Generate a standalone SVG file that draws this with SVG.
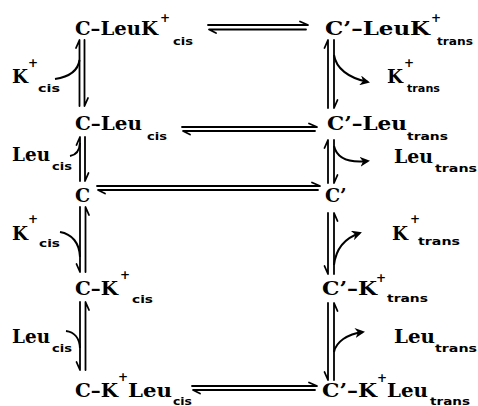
<svg xmlns="http://www.w3.org/2000/svg" width="478" height="406" viewBox="0 0 478 406">
<style>
.m{font-family:"DejaVu Serif","Liberation Serif",serif;font-weight:bold;font-size:19px;fill:#000}
.p{font-family:"DejaVu Sans","Liberation Sans",sans-serif;font-weight:bold;font-size:12px;fill:#000}
.s{font-family:"DejaVu Sans","Liberation Sans",sans-serif;font-weight:bold;font-size:10.5px;fill:#000}
.l{fill:none;stroke:#000;stroke-width:1.8;stroke-linecap:round;stroke-linejoin:round}
.c{fill:none;stroke:#000;stroke-width:2}
</style>
<defs>
<marker id="ah" viewBox="0 0 10 10" refX="8" refY="5" markerWidth="5" markerHeight="5" orient="auto" markerUnits="strokeWidth">
<path d="M0,0 L10,5 L0,10 L3,5 z" fill="#000"/>
</marker>
</defs>
<rect width="478" height="406" fill="#fff"/>
<g id="n-CLeuK">
<text class="m" x="75" y="35" textLength="83" lengthAdjust="spacingAndGlyphs">C–LeuK</text>
<text class="p" x="160" y="22">+</text>
<text class="s" x="173" y="45" textLength="20" lengthAdjust="spacingAndGlyphs">cis</text>
</g>
<g id="n-CpLeuK">
<text class="m" x="325" y="35" textLength="105" lengthAdjust="spacingAndGlyphs">C’–LeuK</text>
<text class="p" x="431" y="22">+</text>
<text class="s" x="437" y="45" textLength="36" lengthAdjust="spacingAndGlyphs">trans</text>
</g>
<g id="n-CLeu">
<text class="m" x="75" y="130" textLength="67" lengthAdjust="spacingAndGlyphs">C–Leu</text>
<text class="s" x="147" y="140" textLength="20" lengthAdjust="spacingAndGlyphs">cis</text>
</g>
<g id="n-CpLeu">
<text class="m" x="327" y="130" textLength="80" lengthAdjust="spacingAndGlyphs">C’–Leu</text>
<text class="s" x="407" y="140" textLength="41" lengthAdjust="spacingAndGlyphs">trans</text>
</g>
<g id="n-C">
<text class="m" x="75" y="202">C</text>
</g>
<g id="n-Cp">
<text class="m" x="325" y="202">C’</text>
</g>
<g id="n-CK">
<text class="m" x="75" y="295" textLength="43" lengthAdjust="spacingAndGlyphs">C–K</text>
<text class="p" x="120" y="279">+</text>
<text class="s" x="132" y="303" textLength="21" lengthAdjust="spacingAndGlyphs">cis</text>
</g>
<g id="n-CpK">
<text class="m" x="322" y="295" textLength="55" lengthAdjust="spacingAndGlyphs">C’–K</text>
<text class="p" x="376" y="282">+</text>
<text class="s" x="387" y="302" textLength="41" lengthAdjust="spacingAndGlyphs">trans</text>
</g>
<g id="n-CKLeu">
<text class="m" x="75" y="397" textLength="43" lengthAdjust="spacingAndGlyphs">C–K</text>
<text class="p" x="118" y="381">+</text>
<text class="m" x="128" y="397" textLength="44" lengthAdjust="spacingAndGlyphs">Leu</text>
<text class="s" x="173" y="405" textLength="19" lengthAdjust="spacingAndGlyphs">cis</text>
</g>
<g id="n-CpKLeu">
<text class="m" x="322" y="397" textLength="55" lengthAdjust="spacingAndGlyphs">C’–K</text>
<text class="p" x="377" y="382">+</text>
<text class="m" x="387" y="397" textLength="41" lengthAdjust="spacingAndGlyphs">Leu</text>
<text class="s" x="430" y="405" textLength="40" lengthAdjust="spacingAndGlyphs">trans</text>
</g>
<g id="lbl-left">
<text class="m" x="12" y="83" textLength="16" lengthAdjust="spacingAndGlyphs">K</text>
<text class="p" x="28" y="67">+</text>
<text class="s" x="38" y="92" textLength="22" lengthAdjust="spacingAndGlyphs">cis</text>
<text class="m" x="12" y="161" textLength="38" lengthAdjust="spacingAndGlyphs">Leu</text>
<text class="s" x="52" y="170" textLength="20" lengthAdjust="spacingAndGlyphs">cis</text>
<text class="m" x="12" y="240" textLength="16" lengthAdjust="spacingAndGlyphs">K</text>
<text class="p" x="28" y="223">+</text>
<text class="s" x="39" y="247" textLength="21" lengthAdjust="spacingAndGlyphs">cis</text>
<text class="m" x="12" y="343" textLength="38" lengthAdjust="spacingAndGlyphs">Leu</text>
<text class="s" x="52" y="352" textLength="20" lengthAdjust="spacingAndGlyphs">cis</text>
</g>
<g id="lbl-right">
<text class="m" x="387" y="83" textLength="16" lengthAdjust="spacingAndGlyphs">K</text>
<text class="p" x="404" y="67">+</text>
<text class="s" x="407" y="92" textLength="33" lengthAdjust="spacingAndGlyphs">trans</text>
<text class="m" x="394" y="163" textLength="39" lengthAdjust="spacingAndGlyphs">Leu</text>
<text class="s" x="435" y="172" textLength="42" lengthAdjust="spacingAndGlyphs">trans</text>
<text class="m" x="392" y="240" textLength="16" lengthAdjust="spacingAndGlyphs">K</text>
<text class="p" x="410" y="223">+</text>
<text class="s" x="418" y="245" textLength="42" lengthAdjust="spacingAndGlyphs">trans</text>
<text class="m" x="394" y="343" textLength="41" lengthAdjust="spacingAndGlyphs">Leu</text>
<text class="s" x="435" y="352" textLength="42" lengthAdjust="spacingAndGlyphs">trans</text>
</g>
<g id="connectors">
<path class="l" d="M208,25 H308 L300,21.5"/>
<path class="l" d="M216,33 L209,29.5 H306"/>
<path class="l" d="M182,127 H317 L309,123.5"/>
<path class="l" d="M190,134.5 L183,131 H315"/>
<path class="l" d="M97,186 H320 L312,182.5"/>
<path class="l" d="M105,193.5 L98,190 H318"/>
<path class="l" d="M192,386 H317 L309,382.5"/>
<path class="l" d="M200,393.5 L193,390 H315"/>
<path class="l" d="M76,48 L79.5,40 V106"/>
<path class="l" d="M84.5,40 V106 L88,98"/>
<path class="l" d="M76.5,145 L80,137 V181"/>
<path class="l" d="M85,137 V181 L88.5,173"/>
<path class="l" d="M80,207 V272 L76.5,264"/>
<path class="l" d="M89,215 L85.5,207 V272"/>
<path class="l" d="M80,302 V370 L76.5,362"/>
<path class="l" d="M89,310 L85.5,302 V370"/>
<path class="l" d="M324.5,48 L328,40 V108"/>
<path class="l" d="M334,40 V108 L337.5,100"/>
<path class="l" d="M324.5,148 L328,140 V183"/>
<path class="l" d="M334,140 V183 L337.5,175"/>
<path class="l" d="M328,213 V274 L324.5,266"/>
<path class="l" d="M337.5,221 L334,213 V274"/>
<path class="l" d="M328,303 V380 L324.5,372"/>
<path class="l" d="M337.5,311 L334,303 V380"/>
<path class="c" d="M55,79 C68,77 78,71 79.5,60"/>
<path class="c" d="M70,156 C76,155 79.5,151 80,143"/>
<path class="c" d="M60,232 C72,234 79.5,243 80,257"/>
<path class="c" d="M66,331 C74,332 79.5,338 80,348"/>
<path class="c" marker-end="url(#ah)" d="M334,55 C336,68 348,78 368,82"/>
<path class="c" marker-end="url(#ah)" d="M334,146 C337,159 350,163 368,161"/>
<path class="c" marker-end="url(#ah)" d="M334,265 C336,248 345,238 360,233"/>
<path class="c" marker-end="url(#ah)" d="M334,352 C336,342 347,334 363,332"/>
</g>
</svg>
